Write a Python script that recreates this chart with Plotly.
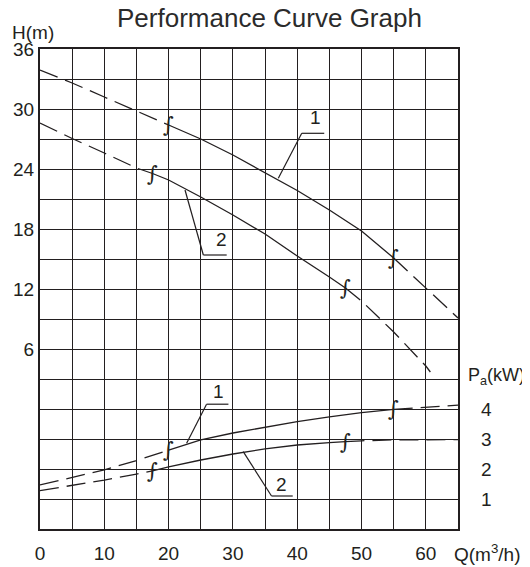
import numpy as np
import plotly.graph_objects as go

# ---- data ----
q_h1 = [0, 5, 10, 15, 20, 25, 30, 35, 40, 45, 50, 55, 60, 65]
h1 = [33.9, 32.6, 31.2, 29.8, 28.4, 27.0, 25.4, 23.6, 21.85, 19.9, 17.8, 15.1, 12.1, 9.1]

q_h2 = [0, 5, 10, 15, 17.5, 20, 25, 30, 35, 40, 45, 47.5, 50, 55, 60, 60.7]
h2 = [28.6, 27.05, 25.6, 24.1, 23.55, 22.9, 21.2, 19.4, 17.5, 15.3, 13.2, 12.1, 10.8, 7.7, 4.3, 3.7]

q_p1 = [0, 5, 10, 15, 20, 25, 30, 35, 40, 45, 50, 55, 60, 65]
p1 = [1.47, 1.71, 1.97, 2.28, 2.63, 2.97, 3.2, 3.4, 3.58, 3.74, 3.88, 3.99, 4.07, 4.13]

q_p2 = [0, 5, 10, 15, 17.5, 20, 25, 30, 35, 40, 45, 47.5, 50, 55, 60, 65]
p2 = [1.28, 1.45, 1.63, 1.83, 1.94, 2.07, 2.3, 2.5, 2.67, 2.8, 2.88, 2.91, 2.94, 2.97, 2.98, 2.98]

# Q range where each curve is drawn solid (dashed outside)
solid_h1 = (20, 55)
solid_h2 = (17.5, 47.5)
solid_p1 = (20, 55)
solid_p2 = (17.5, 47.5)

x_ticks = list(range(0, 66, 5))
x_labels = [str(v) if v % 10 == 0 and v <= 60 else "" for v in x_ticks]
y_ticks = list(range(-12, 37, 3))
y_labels = [str(v) if v % 6 == 0 and v >= 6 else "" for v in y_ticks]
p_ticks = [1, 2, 3, 4]

INK = "#231f20"
DASH = "19px,8px"
LW = 1.3

fig = go.Figure()


def add_curve(q, v, solid, yaxis):
    q = np.array(q, dtype=float)
    v = np.array(v, dtype=float)
    lo, hi = solid
    parts = [
        (q <= lo, DASH),
        ((q >= lo) & (q <= hi), "solid"),
        (q >= hi, DASH),
    ]
    for mask, dash in parts:
        fig.add_trace(go.Scatter(
            x=q[mask], y=v[mask], mode="lines", yaxis=yaxis,
            line=dict(color=INK, width=LW, dash=dash),
            hoverinfo="skip", showlegend=False,
        ))
    # break marks
    for qb in (lo, hi):
        fig.add_annotation(
            x=qb, y=float(np.interp(qb, q, v)), xref="x",
            yref="y" if yaxis == "y" else "y2",
            text="∫", showarrow=False,
            font=dict(family="DejaVu Serif", size=21, color=INK),
        )


add_curve(q_h1, h1, solid_h1, "y")
add_curve(q_h2, h2, solid_h2, "y")
add_curve(q_p1, p1, solid_p1, "y2")
add_curve(q_p2, p2, solid_p2, "y2")


def leader(pts, yref, label, lx, ly):
    for (x0, y0), (x1, y1) in zip(pts[:-1], pts[1:]):
        fig.add_shape(type="line", x0=x0, y0=y0, x1=x1, y1=y1,
                      xref="x", yref=yref, line=dict(color=INK, width=1.2))
    fig.add_annotation(x=lx, y=ly, xref="x", yref=yref, text=label,
                       showarrow=False,
                       font=dict(family="Liberation Sans", size=19, color=INK))


leader([(37.06, 23.07), (40.7, 27.57), (44.2, 27.57)], "y", "1", 42.8, 29.2)
leader([(22.55, 21.9), (25.4, 15.4), (29.03, 15.4)], "y", "2", 28.15, 17.0)
leader([(22.8, 2.86), (25.9, 4.16), (29.3, 4.16)], "y2", "1", 27.7, 4.58)
leader([(31.6, 2.58), (36.0, 1.1), (39.3, 1.1)], "y2", "2", 37.6, 1.47)

TXT = dict(family="Liberation Sans", size=19, color=INK)

fig.update_layout(
    width=522, height=559,
    margin=dict(l=32, r=72, t=41, b=38, autoexpand=False),
    paper_bgcolor="white", plot_bgcolor="white",
    showlegend=False,
    xaxis=dict(
        range=[0, 65], tickmode="array", tickvals=x_ticks, ticktext=x_labels,
        showgrid=True, gridcolor=INK, gridwidth=1.2,
        showline=True, mirror=True, linecolor=INK, linewidth=2,
        zeroline=False, ticks="", ticklabelstandoff=6, tickfont=TXT,
        automargin=False,
    ),
    yaxis=dict(
        range=[-12, 36], tickmode="array", tickvals=y_ticks, ticktext=y_labels,
        showgrid=True, gridcolor=INK, gridwidth=1.2,
        showline=True, mirror=True, linecolor=INK, linewidth=2,
        zeroline=False, ticks="", ticklabelstandoff=0, tickfont=TXT,
        automargin=False,
    ),
    yaxis2=dict(
        range=[0, 16], overlaying="y", side="right", tickmode="array",
        tickvals=p_ticks, showgrid=False, showline=False, zeroline=False,
        ticks="", ticklabelstandoff=22, tickfont=TXT, automargin=False,
    ),
)

fig.add_annotation(x=0.548, y=1.0646, xref="paper", yref="paper",
                   xanchor="center", yanchor="middle",
                   text="Performance Curve Graph", showarrow=False,
                   font=dict(family="Liberation Sans", size=26, color="#2b2b2b"))
fig.add_annotation(x=-0.0718, y=1.035, xref="paper", yref="paper",
                   xanchor="left", yanchor="middle",
                   text="H(m)", showarrow=False, font=TXT)
fig.add_annotation(x=1.0190, y=0.3167, xref="paper", yref="paper",
                   xanchor="left", yanchor="middle",
                   text="P<sub>a</sub>(kW)", showarrow=False,
                   font=dict(family="Liberation Sans", size=18, color=INK))
fig.add_annotation(x=0.9856, y=-0.05, xref="paper", yref="paper",
                   xanchor="left", yanchor="middle",
                   text="Q(m<sup>3</sup>/h)", showarrow=False, font=TXT)

fig.write_html("out.html")
